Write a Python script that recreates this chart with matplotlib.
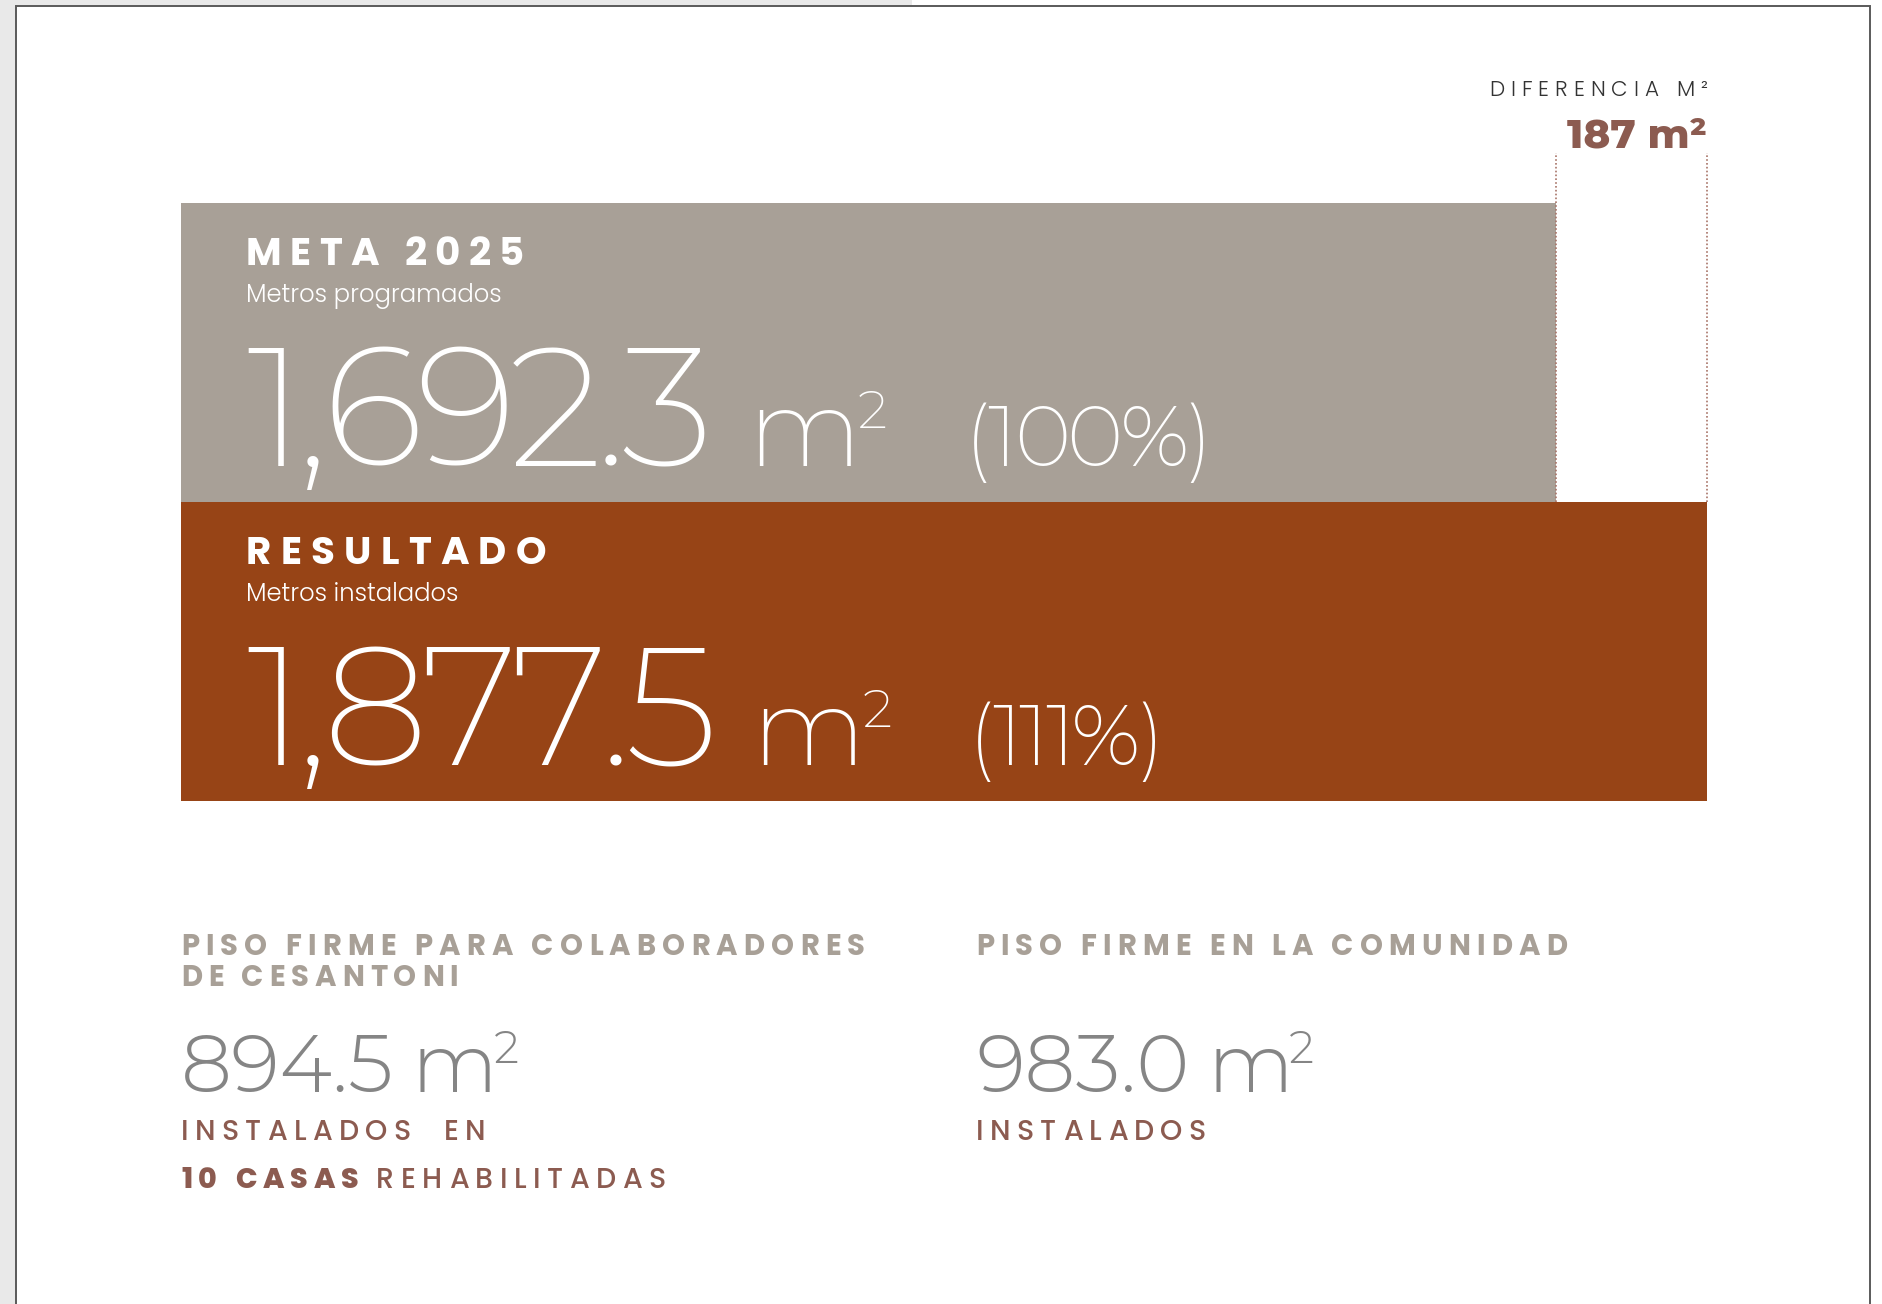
import matplotlib
matplotlib.use("Agg")
import matplotlib.pyplot as plt
from matplotlib.patches import Rectangle
from matplotlib.font_manager import FontProperties

W, H = 1882, 1304

# datos de las barras
etiquetas = ["META 2025", "RESULTADO"]
subtitulos = ["Metros programados", "Metros instalados"]
valores = [1692.3, 1877.5]
porcentajes = ["(100%)", "(111%)"]
colores = ["#A8A097", "#974416"]
dif_titulo = "DIFERENCIA M²"
dif_texto = "187 m²"

# datos de abajo
grupos = [["PISO FIRME PARA COLABORADORES", "DE CESANTONI"], ["PISO FIRME EN LA COMUNIDAD"]]
valores_grupo = [894.5, 983.0]
casas = 10

BROWN_TXT = "#8C5B50"
GRAY_TXT = "#A8A097"
NUM_GRAY = "#858585"

fig = plt.figure(figsize=(W / 100, H / 100), dpi=100, facecolor="white")

# barras
bar_left, bar_right, bar_top, row_h, line_top = 181, 1707, 203, 299, 153
extra = (bar_top - line_top) / row_h
ax = fig.add_axes([bar_left / W, (H - bar_top - 2 * row_h) / H,
                   (bar_right - bar_left) / W, (2 * row_h + bar_top - line_top) / H])
ypos = [1, 0]
ax.barh(ypos, valores, height=1.0, color=colores, lw=0)
ax.set_xlim(0, max(valores))
ax.set_ylim(-0.5, 1.5 + extra)
ax.axis("off")
ax.vlines(valores, 0.5, 1.5 + extra, colors="#A87468", linestyles=(0, (1, 1.3)), lw=1.2, clip_on=False)

# capa de textos encima
bg = fig.add_axes([0, 0, 1, 1])
bg.set_xlim(0, W)
bg.set_ylim(H, 0)
bg.axis("off")
bg.patch.set_visible(False)
bg.set_zorder(2)

# marco de la pagina
bg.add_patch(Rectangle((0, 0), 16, H, color="#E9E9E9", lw=0))
bg.add_patch(Rectangle((0, 0), 912, 5, color="#E9E9E9", lw=0))
bg.plot([16, 16, 1870, 1870], [H, 5.5, 5.5, H], color="#5a5a5a", lw=1.4, solid_joinstyle="miter")

renderer = fig.canvas.get_renderer()


def fp(family, weight, size):
    return FontProperties(family=[family, "DejaVu Sans"], weight=weight, size=size)


def tw(s, prop):
    return renderer.get_text_width_height_descent(s, prop, ismath=False)[0]


def adv(ch, prop):
    return tw(ch + "x", prop) - tw("x", prop)


def spaced(x, y, s, prop, color, width=None, track=0.0, ha="left"):
    # texto con espaciado entre letras; devuelve el borde derecho
    advs = [adv(c, prop) for c in s]
    base = sum(advs[:-1]) + tw(s[-1], prop)
    if width is not None:
        track = (width - base) / (len(s) - 1)
    total = base + track * (len(s) - 1)
    if ha == "right":
        x -= total
    x_start = x
    for c, a in zip(s, advs):
        if c != " ":
            bg.text(x, y, c, fontproperties=prop, color=color, va="baseline", ha="left")
        x += a + track
    return x_start + total


def to_px(xd, yd):
    px, py = ax.transData.transform((xd, yd))
    return px, H - py


big = fp("Montserrat Alternates", 275, 121)
unit = fp("Montserrat Alternates", 275, 77)
sup = fp("Montserrat Alternates", 275, 38)
pct = fp("Montserrat Alternates", 275, 62)
titulo = fp("Poppins", 700, 28)
sub = fp("Poppins", 300, 17.5)
title_w = {"META 2025": 278, "RESULTADO": 300}

for lab, st, v, p, y in zip(etiquetas, subtitulos, valores, porcentajes, ypos):
    x0, top = to_px(0, y + 0.5)
    x0 += 65
    spaced(x0, top + 62, lab, titulo, "white", width=title_w[lab])
    bg.text(x0, top + 99, st, fontproperties=sub, color="white", va="baseline")
    base = top + 263
    xe = spaced(x0, base, f"{v:,.1f}", big, "white", track=-7)
    mx = xe + 34
    bg.text(mx, base, "m", fontproperties=unit, color="white", va="baseline")
    bg.text(mx + tw("m", unit) - 3, base - 38, "2", fontproperties=sup, color="white", va="baseline")
    spaced(mx + 217, base, p, pct, "white", track=-3.5)

# diferencia
rx, _ = to_px(max(valores), 0)
spaced(rx, 96, dif_titulo, fp("Poppins", 300, 15.5), "#333333", width=218, ha="right")
bg.text(rx, 148, dif_texto, fontproperties=fp("Montserrat Alternates", 800, 29), color=BROWN_TXT,
        va="baseline", ha="right")

# bloques inferiores
head = fp("Poppins", 700, 21)
numf = fp("Montserrat Alternates", 300, 58)
supf = fp("Montserrat Alternates", 300, 32)
lab_med = fp("Poppins", 500, 20.5)
lab_bold = fp("Poppins", 800, 20.5)
head_w = {"PISO FIRME PARA COLABORADORES": 684, "DE CESANTONI": 277, "PISO FIRME EN LA COMUNIDAD": 591}
cols = [bar_left, bar_left + 795]

for gx, lines, gv in zip(cols, grupos, valores_grupo):
    for k, ln in enumerate(lines):
        spaced(gx, 955 + 31 * k, ln, head, GRAY_TXT, width=head_w[ln])
    num = f"{gv:,.1f}"
    bg.text(gx, 1092, num, fontproperties=numf, color=NUM_GRAY, va="baseline")
    mx = gx + tw(num, numf) + 18
    bg.text(mx, 1092, "m", fontproperties=numf, color=NUM_GRAY, va="baseline")
    bg.text(mx + tw("m", numf) - 4, 1063, "2", fontproperties=supf, color=NUM_GRAY, va="baseline")

spaced(cols[0], 1140, "INSTALADOS  EN", lab_med, BROWN_TXT, width=305)
xe = spaced(cols[0], 1188, f"{casas} CASAS", lab_bold, BROWN_TXT, width=178)
spaced(xe + 17, 1188, "REHABILITADAS", lab_med, BROWN_TXT, width=290)
spaced(cols[1], 1140, "INSTALADOS", lab_med, BROWN_TXT, width=230)

fig.savefig("out.png", dpi=100)
